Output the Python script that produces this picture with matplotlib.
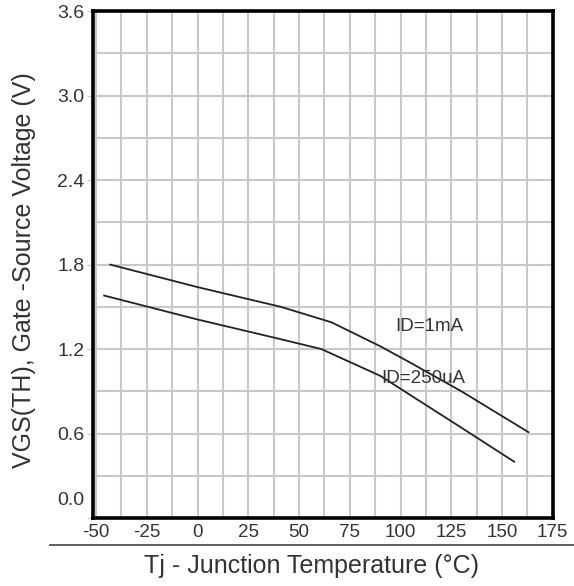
import numpy as np
import matplotlib
matplotlib.use('Agg')
import matplotlib.pyplot as plt
import matplotlib.transforms as mtransforms
from matplotlib.lines import Line2D

plt.rcParams['font.family'] = ['Liberation Sans', 'DejaVu Sans']
plt.rcParams['axes.unicode_minus'] = False

t_1ma = [-43, 0, 41, 66, 90, 104, 130, 163]
v_1ma = [1.80, 1.64, 1.50, 1.39, 1.22, 1.11, 0.90, 0.61]
t_250ua = [-46, 0, 41, 61, 90, 128, 156]
v_250ua = [1.58, 1.41, 1.27, 1.20, 1.01, 0.66, 0.40]

xticks = [-50, -25, 0, 25, 50, 75, 100, 125, 150, 175]
yticks = [0.0, 0.6, 1.2, 1.8, 2.4, 3.0, 3.6]

fig = plt.figure(figsize=(5.74, 5.86), dpi=100)
ax = fig.add_axes([0.162, 0.116, 0.801, 0.865])

ax.plot(t_1ma, v_1ma, color='#222222', lw=1.3)
ax.plot(t_250ua, v_250ua, color='#222222', lw=1.3)

ax.set_xlim(-51.5, 175)
ax.set_ylim(0, 3.6)
ax.set_xticks(xticks)
ax.set_yticks(yticks)
ax.set_yticklabels(['%.1f' % v for v in yticks])
ax.set_xticks(np.arange(-50, 176, 12.5), minor=True)
ax.set_yticks(np.arange(0, 3.61, 0.3), minor=True)
ax.grid(True, which='both', color='#c8c8c8', lw=1.5)
ax.tick_params(which='both', length=0, labelcolor='#333333')
ax.tick_params(axis='y', which='major', length=4, color='#c8c8c8', labelsize=14, pad=2)
ax.tick_params(axis='x', labelsize=13.5, pad=4)

# the 0.0 label sits above the bottom edge in the original
lab0 = ax.get_yticklabels()[0]
lab0.set_transform(lab0.get_transform() + mtransforms.ScaledTranslation(0, 0.2, fig.dpi_scale_trans))

for s in ax.spines.values():
    s.set_linewidth(2.6)
    s.set_color('black')

ax.text(114, 1.36, 'ID=1mA', fontsize=13.5, color='#333333', ha='center', va='center')
ax.text(111, 0.99, 'ID=250uA', fontsize=13.5, color='#333333', ha='center', va='center')

ax.set_ylabel('VGS(TH), Gate -Source Voltage (V)', fontsize=18, color='#333333')
ax.yaxis.set_label_coords(-0.125, 0.49)
fig.text(0.542, 0.022, 'Tj - Junction Temperature (°C)', fontsize=18, color='#333333', ha='center')
fig.add_artist(Line2D([0.087, 1.0], [0.07, 0.07], color='#444444', lw=1.2))

fig.savefig('out.png', dpi=100)
